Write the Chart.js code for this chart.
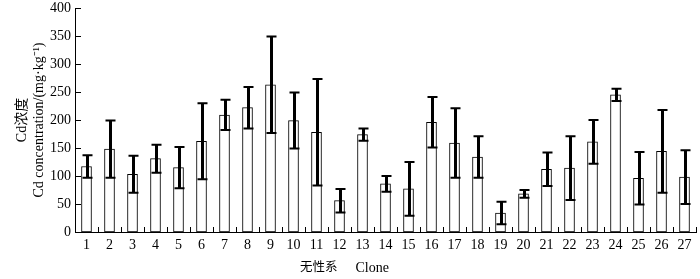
<!DOCTYPE html>
<html>
<head>
<meta charset="utf-8">
<script src="https://cdn.jsdelivr.net/npm/chart.js@4/dist/chart.umd.min.js"></script>
<style>
  html, body { margin: 0; padding: 0; background: #fff; }
  #contenedor { width: 700px; height: 279px; }
</style>
</head>
<body>
<div id="contenedor"><canvas id="grafica_cd"></canvas></div>
<script>
// clones y concentracion media de Cd con su desviacion
var clones = ['1','2','3','4','5','6','7','8','9','10','11','12','13','14','15','16','17','18','19','20','21','22','23','24','25','26','27'];
var medias = [117, 148, 103, 131, 115, 162, 209, 222, 263, 199, 178, 56, 174, 86, 77, 196, 159, 134, 34, 68, 112, 114, 161, 245, 96, 144, 98];
var desviaciones = [20, 51, 33, 25, 37, 68, 27, 37, 86, 50, 95, 21, 11, 14, 48, 45, 62, 37, 20, 7, 30, 57, 39, 11, 47, 74, 48];
var ticksY = [0, 50, 100, 150, 200, 250, 300, 350, 400];
var tituloXcn = '无性系';
var tituloXen = 'Clone';

var fuente = "'Liberation Serif', 'Noto Sans CJK SC', serif";

var barChart;

// barras de error, marcas de eje hacia dentro y titulo del eje x
var pluginBarrasError = {
    id: 'barrasError',
    afterDatasetsDraw: function(chart){
        var ctx = chart.ctx;
        var meta = chart.getDatasetMeta(0);
        var escalaY = chart.scales.y;
        var escalaX = chart.scales.x;
        ctx.save();
        ctx.strokeStyle = '#000';

        meta.data.forEach(function(barra, i){
            var yAlto = escalaY.getPixelForValue(medias[i] + desviaciones[i]);
            var yBajo = escalaY.getPixelForValue(medias[i] - desviaciones[i]);
            var x = Math.round(barra.x) + 0.5;
            ctx.lineWidth = 3;
            ctx.beginPath();
            ctx.moveTo(x, yAlto);
            ctx.lineTo(x, yBajo);
            ctx.stroke();
            ctx.lineWidth = 2;
            ctx.beginPath();
            ctx.moveTo(x - 5, yAlto);
            ctx.lineTo(x + 5, yAlto);
            ctx.moveTo(x - 5, yBajo);
            ctx.lineTo(x + 5, yBajo);
            ctx.stroke();
        });

        ctx.lineWidth = 1;
        ctx.beginPath();
        ticksY.forEach(function(v){
            var y = Math.round(escalaY.getPixelForValue(v)) + 0.5;
            ctx.moveTo(escalaX.left, y);
            ctx.lineTo(escalaX.left + 6, y);
        });
        for(var i = 0; i <= clones.length; i++){
            var x = Math.round(escalaX.getPixelForValue(i - 0.5)) + 0.5;
            ctx.moveTo(x, escalaY.bottom);
            ctx.lineTo(x, escalaY.bottom - 5);
        }
        ctx.stroke();

        // el titulo del eje x va algo a la izquierda del centro
        var xTitulo = escalaX.getPixelForValue(11.3);
        var yTitulo = escalaY.bottom + 36;
        ctx.fillStyle = '#000';
        ctx.textBaseline = 'middle';
        ctx.font = '12.5px ' + fuente;
        ctx.textAlign = 'right';
        ctx.fillText(tituloXcn, xTitulo - 9, yTitulo);
        ctx.font = '14px ' + fuente;
        ctx.textAlign = 'left';
        ctx.fillText(tituloXen, xTitulo + 9, yTitulo);
        ctx.restore();
    }
};

function graficaConcentracion(){
    var lienzo = document.getElementById('grafica_cd');

    var datos = {
        labels: clones,
        datasets: [{
            label: 'Cd',
            data: medias,
            backgroundColor: '#ffffff',
            borderColor: '#000000',
            borderWidth: 1,
            borderSkipped: false,
            barThickness: 10
        }]
    };

    var opciones = {
        responsive: true,
        maintainAspectRatio: false,
        animation: false,
        layout: { padding: { top: 8, right: 4, left: 0, bottom: 0 } },
        plugins: {
            legend: { display: false },
            tooltip: { enabled: false }
        },
        scales: {
            x: {
                offset: true,
                grid: { display: false, drawTicks: false },
                border: { display: true, color: '#000', width: 1 },
                ticks: {
                    color: '#000',
                    padding: 5,
                    maxRotation: 0,
                    autoSkip: false,
                    font: { family: fuente, size: 14 }
                },
                afterFit: function(escala){ escala.height = 47; }
            },
            y: {
                min: 0,
                max: 400,
                grid: { display: false, drawTicks: false },
                border: { display: true, color: '#000', width: 1 },
                ticks: {
                    stepSize: 50,
                    color: '#000',
                    padding: 4,
                    font: { family: fuente, size: 14 }
                },
                title: {
                    display: true,
                    text: ['Cd浓度', 'Cd concentration/(mg·kg⁻¹)'],
                    color: '#000',
                    padding: { top: 14, bottom: 0 },
                    font: { family: fuente, size: 14, lineHeight: 1.2 }
                },
                afterFit: function(escala){
                    escala.width = 75;
                    escala.paddingTop = 0;
                    escala.paddingBottom = 0;
                }
            }
        }
    };

    if(barChart != null){
        barChart.destroy();
    }

    barChart = new Chart(lienzo, {
        type: 'bar',
        data: datos,
        options: opciones,
        plugins: [pluginBarrasError]
    });
}

graficaConcentracion();
</script>
</body>
</html>
